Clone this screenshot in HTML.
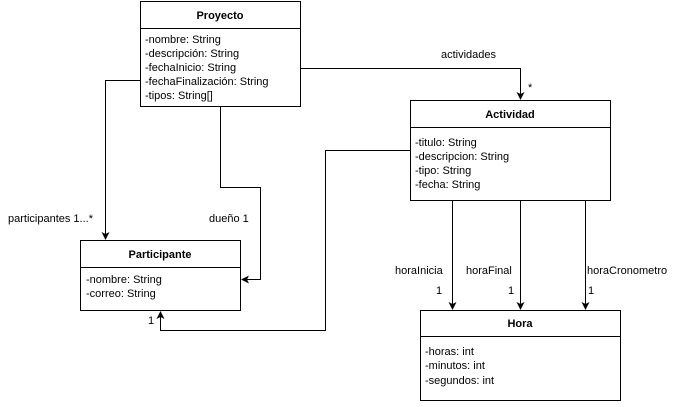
<!DOCTYPE html>
<html><head><meta charset="utf-8"><style>
html,body{margin:0;padding:0;background:#fff}
svg text{font-family:"Liberation Sans",sans-serif;font-size:11px;fill:#000}
</style></head><body>
<svg width="681" height="402" viewBox="0 0 681 402" xmlns="http://www.w3.org/2000/svg">
<defs><marker id="a" markerWidth="8" markerHeight="8" refX="7" refY="4" orient="auto" markerUnits="userSpaceOnUse"><path d="M0,0 L8,4 L0,8 L2,4 Z" fill="#000"/></marker></defs>
<g fill="#fff" stroke="#000" stroke-width="1">
<rect x="140.5" y="1.5" width="160" height="105"/><line x1="140.5" y1="28.5" x2="300.5" y2="28.5"/>
<rect x="410.5" y="100.5" width="200" height="100"/><line x1="410.5" y1="127.5" x2="610.5" y2="127.5"/>
<rect x="80.5" y="240.5" width="160" height="70"/><line x1="80.5" y1="267.5" x2="240.5" y2="267.5"/>
<rect x="420.5" y="310.5" width="200" height="90"/><line x1="420.5" y1="336.5" x2="620.5" y2="336.5"/>
</g>
<g fill="none" stroke="#000" stroke-width="1">
<path d="M300.5,68.5 H520.5 V99" marker-end="url(#a)"/>
<path d="M140.5,80.5 H105.5 V239" marker-end="url(#a)"/>
<path d="M220.5,106.5 V187.5 H260.5 V279.5 H242" marker-end="url(#a)"/>
<path d="M410.5,150.5 H325.5 V330.5 H160.5 V312" marker-end="url(#a)"/>
<path d="M452.5,200.5 V309" marker-end="url(#a)"/>
<path d="M520.5,200.5 V309" marker-end="url(#a)"/>
<path d="M585.5,200.5 V309" marker-end="url(#a)"/>
</g>
<g font-weight="bold" text-anchor="middle">
<text x="220" y="19" font-weight="bold">Proyecto</text>
<text x="510" y="118" font-weight="bold">Actividad</text>
<text x="160" y="258" font-weight="bold">Participante</text>
<text x="520" y="327" font-weight="bold">Hora</text>
</g>
<text x="145" y="43">-nombre: String</text>
<text x="145" y="57">-descripción: String</text>
<text x="145" y="71">-fechaInicio: String</text>
<text x="145" y="85">-fechaFinalización: String</text>
<text x="145" y="99">-tipos: String[]</text>
<text x="415" y="146">-titulo: String</text>
<text x="415" y="160">-descripcion: String</text>
<text x="415" y="174">-tipo: String</text>
<text x="415" y="188">-fecha: String</text>
<text x="86" y="283">-nombre: String</text>
<text x="86" y="297">-correo: String</text>
<text x="425" y="355">-horas: int</text>
<text x="425" y="369">-minutos: int</text>
<text x="425" y="384">-segundos: int</text>
<text x="441" y="58">actividades</text>
<text x="528" y="91">*</text>
<text x="8" y="222">participantes 1...*</text>
<text x="209" y="222">dueño 1</text>
<text x="148" y="324">1</text>
<text x="395" y="274">horaInicia</text>
<text x="436" y="294">1</text>
<text x="466" y="274">horaFinal</text>
<text x="508" y="294">1</text>
<text x="587" y="274">horaCronometro</text>
<text x="588" y="294">1</text>
</svg>
</body></html>
